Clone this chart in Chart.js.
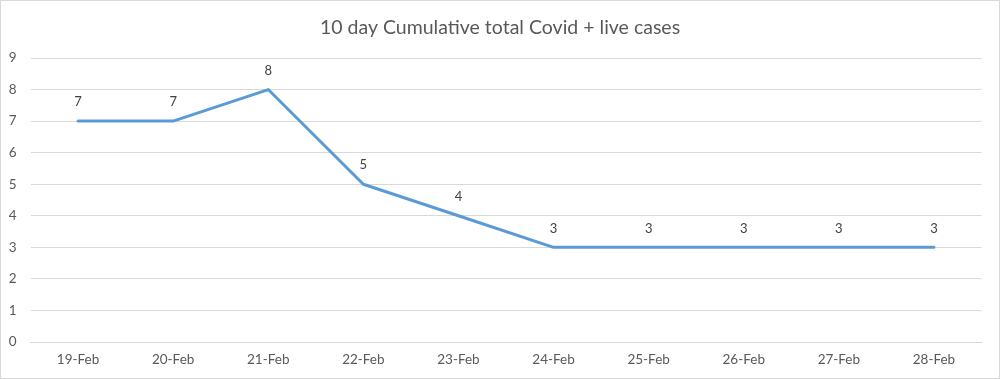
<!DOCTYPE html>
<html><head><meta charset="utf-8">
<script src="https://cdn.jsdelivr.net/npm/chart.js@4/dist/chart.umd.min.js"></script>
<style>html,body{margin:0;padding:0;background:#fff}#wrap{width:1000px;height:379px;position:relative}</style>
</head><body><div id="wrap"><canvas id="c" width="1000" height="379"></canvas></div>
<script>
const categories = ['19-Feb','20-Feb','21-Feb','22-Feb','23-Feb','24-Feb','25-Feb','26-Feb','27-Feb','28-Feb'];
const cases = [7,7,8,5,4,3,3,3,3,3];
const titleText = '10 day Cumulative total Covid + live cases';
const FONT = 'Lato';

const frame = {
  id: 'frame',
  beforeDraw(chart) {
    const c = chart.ctx;
    c.save();
    c.fillStyle = '#fff';
    c.fillRect(0,0,chart.width,chart.height);
    c.strokeStyle = '#d9d9d9';
    c.lineWidth = 1;
    c.strokeRect(0.5,0.5,chart.width-1,chart.height-1);
    c.restore();
  }
};
const labels = {
  id: 'labels',
  afterDatasetsDraw(chart) {
    const c = chart.ctx;
    const meta = chart.getDatasetMeta(0);
    c.save();
    c.font = '13px ' + FONT;
    c.fillStyle = '#404040';
    c.textAlign = 'center';
    c.textBaseline = 'middle';
    meta.data.forEach((pt, i) => {
      c.fillText(String(chart.data.datasets[0].data[i]), pt.x, pt.y - 19);
    });
    c.restore();
  }
};

new Chart(document.getElementById('c'), {
  type: 'line',
  data: {
    labels: categories,
    datasets: [{
      data: cases,
      borderColor: '#5b9bd5',
      backgroundColor: '#5b9bd5',
      borderWidth: 3,
      pointRadius: 0,
      tension: 0,
      borderCapStyle: 'round',
      borderJoinStyle: 'round'
    }]
  },
  options: {
    responsive: false,
    animation: false,
    devicePixelRatio: 1,
    layout: { padding: 0 },
    plugins: {
      legend: { display: false },
      tooltip: { enabled: false },
      title: {
        display: true,
        text: titleText,
        color: '#595959',
        font: { family: FONT, size: 19.5, weight: 'normal' },
        padding: { top: 16.3, bottom: 18.3 }
      }
    },
    scales: {
      x: {
        offset: true,
        grid: { display: false, drawTicks: false },
        border: { display: true, color: '#d9d9d9' },
        ticks: { color: '#595959', font: { family: FONT, size: 13.5 }, padding: 10, maxRotation: 0 },
        afterFit(s) { s.height = 37; }
      },
      y: {
        min: 0, max: 9,
        grid: { color: '#d9d9d9', drawTicks: false },
        border: { display: false },
        ticks: { stepSize: 1, color: '#595959', font: { family: FONT, size: 13.5 }, padding: 14 },
        afterFit(s) { s.width = 30.5; }
      },
      yRight: {
        position: 'right',
        display: true,
        min: 0, max: 9,
        grid: { display: false, drawTicks: false },
        border: { display: false },
        ticks: { display: false },
        afterFit(s) { s.width = 18.5; }
      }
    }
  },
  plugins: [frame, labels]
});
</script></body></html>
